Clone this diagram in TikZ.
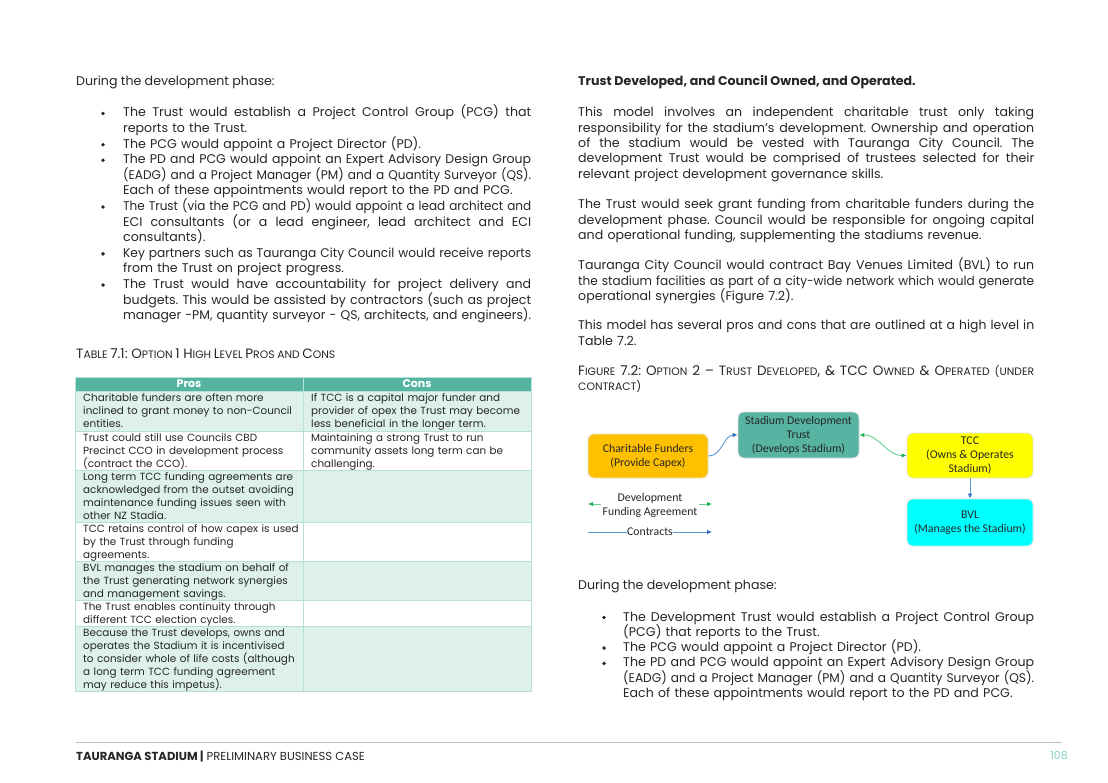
\documentclass[tikz,border=0pt]{standalone}
\usepackage{fontspec}
\usepackage{graphicx}
\setmainfont{Poppins}
\newfontfamily\calib{Carlito}
\usetikzlibrary{arrows.meta}
\frenchspacing
\definecolor{txt}{HTML}{262626}
\definecolor{teal}{HTML}{54B4A1}
\definecolor{lrow}{HTML}{DDF0EC}
\definecolor{grid}{HTML}{B7E0D7}
\definecolor{sdtc}{HTML}{57B3A2}
\definecolor{cfc}{HTML}{FFC000}
\definecolor{tccc}{HTML}{FFFF00}
\definecolor{bvlc}{HTML}{00FFFF}
\definecolor{bluel}{HTML}{5B9BD5}
\definecolor{blued}{HTML}{2F6FBA}
\definecolor{greenl}{HTML}{66D18F}
\definecolor{greend}{HTML}{1DAF50}
\definecolor{pnum}{HTML}{86D3C4}
\definecolor{rule}{HTML}{BFBFBF}
\newcommand\bodyfontL{\fontsize{12.6}{15.6}\selectfont}
\newcommand\bodyfontR{\fontsize{12.6}{15.3}\selectfont}
\newcommand\tabfont{\fontsize{10.4}{13}\selectfont}
\newcommand\BG[1]{{\fontsize{13.5}{15}\selectfont #1}}
\newcommand\SM[1]{{\fontsize{10.8}{15}\selectfont #1}}
% stacked lines: justified line / last line
\newcommand\lines[1]{\vtop{#1}}
\newcommand\J[1]{\setbox0=\hbox{#1}\ifdim\wd0>\linewidth\hbox{\resizebox{\linewidth}{\height}{#1}}\else\hbox to\linewidth{\spaceskip=\fontdimen2\font plus 5\fontdimen2\font minus \fontdimen4\font\relax #1}\fi}
\newcommand\Lst[1]{\setbox0=\hbox{#1}\ifdim\wd0>\linewidth\hbox{\resizebox{\linewidth}{\height}{#1}}\else\hbox{#1}\fi}
\tikzset{
  plain/.style={anchor=base west, inner sep=0pt, font=\bodyfontL, text=txt},
  bltL/.style={anchor=base west, inner sep=0pt, text width=408pt, font=\bodyfontL, text=txt},
  bltR/.style={anchor=base west, inner sep=0pt, text width=411pt, font=\bodyfontR, text=txt},
  parR/.style={anchor=base west, inner sep=0pt, text width=456pt, font=\bodyfontR, text=txt},
  dot/.style={circle, fill=txt, inner sep=0pt, minimum size=3.8pt},
  cell/.style={anchor=base west, inner sep=0pt, text width=219pt, font=\tabfont, text=txt},
  hdr/.style={anchor=base, inner sep=0pt, font=\fontsize{11}{12}\selectfont\bfseries, text=white},
  box/.style={rounded corners=6pt, draw=black!12, line width=0.8pt, align=center, text=txt,
     font=\calib\fontsize{11.8}{14}\selectfont, inner sep=0pt},
  dgtext/.style={align=center, text=txt, font=\calib\fontsize{11.8}{14}\selectfont, inner sep=0pt},
  conB/.style={draw=bluel, line width=0.9pt, -{Latex[length=5pt,width=4.5pt,color=blued]}},
  conG/.style={draw=greenl, line width=0.9pt},
  tipG/.style={-{Latex[length=5pt,width=4.5pt,color=greend]}},
}
\begin{document}
\begin{tikzpicture}[x=1pt,y=-1pt]
\useasboundingbox[fill=white] (0,0) rectangle (1108,783);

% ---------------- left column ----------------
\node[plain] (ldur) at (76,86) {During the development phase:};

\node[dot] (ld1) at (103,113.5) {};
\node[bltL] (lb1) at (123,117) {\lines{\J{The Trust would establish a Project Control Group (PCG) that}\Lst{reports to the Trust.}}};
\node[dot] (ld2) at (103,144.7) {};
\node[bltL] (lb2) at (123,148.2) {\lines{\Lst{The PCG would appoint a Project Director (PD).}}};
\node[dot] (ld3) at (103,160.3) {};
\node[bltL] (lb3) at (123,163.8) {\lines{\J{The PD and PCG would appoint an Expert Advisory Design Group}\J{(EADG) and a Project Manager (PM) and a Quantity Surveyor (QS).}\Lst{Each of these appointments would report to the PD and PCG.}}};
\node[dot] (ld4) at (103,207.1) {};
\node[bltL] (lb4) at (123,210.6) {\lines{\J{The Trust (via the PCG and PD) would appoint a lead architect and}\J{ECI consultants (or a lead engineer, lead architect and ECI}\Lst{consultants).}}};
\node[dot] (ld5) at (103,253.9) {};
\node[bltL] (lb5) at (123,257.4) {\lines{\J{Key partners such as Tauranga City Council would receive reports}\Lst{from the Trust on project progress.}}};
\node[dot] (ld6) at (103,285.1) {};
\node[bltL] (lb6) at (123,288.6) {\lines{\J{The Trust would have accountability for project delivery and}\J{budgets. This would be assisted by contractors (such as project}\Lst{manager -PM, quantity surveyor - QS, architects, and engineers).}}};

\node[anchor=base west, inner sep=0pt, text=txt] (tcap) at (76,359)
  {\BG{T}\SM{ABLE} \BG{7.1: O}\SM{PTION} \BG{1 H}\SM{IGH} \BG{L}\SM{EVEL} \BG{P}\SM{ROS} \SM{AND} \BG{C}\SM{ONS}};

% table backgrounds
\fill[teal] (75,377) rectangle (531,391);
\fill[lrow] (75,391) rectangle (531,431);
\fill[lrow] (75,470) rectangle (531,522);
\fill[lrow] (75,561) rectangle (531,600);
\fill[lrow] (75,626) rectangle (531,691);
\draw[grid, line width=0.8pt] (75,377) rectangle (531,691);
\foreach \yy in {391,431,470,522,561,600,626} \draw[grid, line width=0.8pt] (75,\yy) -- (531,\yy);
\draw[grid, line width=0.8pt] (303,377) -- (303,691);

\node[hdr] (hpro) at (189,388) {Pros};
\node[hdr] (hcon) at (417,388) {Cons};

\node[cell] (p1) at (83,401.5) {\lines{\Lst{Charitable funders are often more}\Lst{inclined to grant money to non-Council}\Lst{entities.}}};
\node[cell] (c1) at (311,401.5) {\lines{\Lst{If TCC is a capital major funder and}\Lst{provider of opex the Trust may become}\Lst{less beneficial in the longer term.}}};
\node[cell] (p2) at (83,441) {\lines{\Lst{Trust could still use Councils CBD}\Lst{Precinct CCO in development process}\Lst{(contract the CCO).}}};
\node[cell] (c2) at (311,441) {\lines{\Lst{Maintaining a strong Trust to run}\Lst{community assets long term can be}\Lst{challenging.}}};
\node[cell] (p3) at (83,480.5) {\lines{\Lst{Long term TCC funding agreements are}\Lst{acknowledged from the outset avoiding}\Lst{maintenance funding issues seen with}\Lst{other NZ Stadia.}}};
\node[cell] (p4) at (83,532.5) {\lines{\Lst{TCC retains control of how capex is used}\Lst{by the Trust through funding}\Lst{agreements.}}};
\node[cell] (p5) at (83,571.5) {\lines{\Lst{BVL manages the stadium on behalf of}\Lst{the Trust generating network synergies}\Lst{and management savings.}}};
\node[cell] (p6) at (83,610.5) {\lines{\Lst{The Trust enables continuity through}\Lst{different TCC election cycles.}}};
\node[cell] (p7) at (83,636.5) {\lines{\Lst{Because the Trust develops, owns and}\Lst{operates the Stadium it is incentivised}\Lst{to consider whole of life costs (although}\Lst{a long term TCC funding agreement}\Lst{may reduce this impetus).}}};

% ---------------- right column ----------------
\node[plain, font=\bodyfontR\bfseries] (rhead) at (578,86) {Trust Developed, and Council Owned, and Operated.};
\node[parR] (rp1) at (578,117) {\lines{\J{This model involves an independent charitable trust only taking}\J{responsibility for the stadium’s development. Ownership and operation}\J{of the stadium would be vested with Tauranga City Council. The}\J{development Trust would be comprised of trustees selected for their}\Lst{relevant project development governance skills.}}};
\node[parR] (rp2) at (578,209) {\lines{\J{The Trust would seek grant funding from charitable funders during the}\J{development phase. Council would be responsible for ongoing capital}\Lst{and operational funding, supplementing the stadiums revenue.}}};
\node[parR] (rp3) at (578,270) {\lines{\J{Tauranga City Council would contract Bay Venues Limited (BVL) to run}\J{the stadium facilities as part of a city-wide network which would generate}\Lst{operational synergies (Figure 7.2).}}};
\node[parR] (rp4) at (578,330) {\lines{\J{This model has several pros and cons that are outlined at a high level in}\Lst{Table 7.2.}}};
\node[parR, font=\fontsize{13.5}{15.3}\selectfont] (fcap) at (578,375.5)
  {\lines{\J{\BG{F}\SM{IGURE} \BG{7.2: O}\SM{PTION} \BG{2 – T}\SM{RUST} \BG{D}\SM{EVELOPED}, \BG{\& TCC O}\SM{WNED} \BG{\& O}\SM{PERATED} \SM{(UNDER}}\Lst{\SM{CONTRACT)}}}};

% diagram
\node[box, fill=cfc, minimum width=120pt, minimum height=44pt] (cf) at (648,456) {Charitable Funders\\(Provide Capex)};
\node[box, fill=sdtc, minimum width=121pt, minimum height=46pt] (sdt) at (798.5,435) {Stadium Development\\Trust\\(Develops Stadium)};
\node[box, fill=tccc, minimum width=126pt, minimum height=45pt] (tcc) at (970,455.5) {TCC\\(Owns \& Operates\\Stadium)};
\node[box, fill=bvlc, minimum width=126pt, minimum height=47pt] (bvl) at (970,522.5) {BVL\\(Manages the Stadium)};

\draw[conB] (cf.east) to[out=0,in=180] (sdt.west);
\draw[conG, {Latex[length=5pt,width=4.5pt,color=greend]}-{Latex[length=5pt,width=4.5pt,color=greend]}] (sdt.east) to[out=0,in=180] (tcc.west);
\draw[conB] (tcc.south) -- (bvl.north);

\node[dgtext] (dflab) at (650,505) {Development\\Funding Agreement};
\coordinate (dgLa) at (601,504);
\coordinate (dgLb) at (588,504);
\coordinate (dgRa) at (699,504);
\coordinate (dgRb) at (712,504);
\draw[conG, tipG] (dgLa) -- (dgLb);
\draw[conG, tipG] (dgRa) -- (dgRb);
\coordinate (ctL) at (588,532);
\coordinate (ctR) at (712,532);
\draw[conB] (ctL) -- (ctR);
\node[dgtext, fill=white, inner sep=0.6pt] (ctlab) at (650,532) {Contracts};

\node[plain, font=\bodyfontR] (rdur) at (578,589) {During the development phase:};
\node[dot] (rd1) at (604,617.5) {};
\node[bltR] (rb1) at (623,621) {\lines{\J{The Development Trust would establish a Project Control Group}\Lst{(PCG) that reports to the Trust.}}};
\node[dot] (rd2) at (604,648.1) {};
\node[bltR] (rb2) at (623,651.6) {\lines{\Lst{The PCG would appoint a Project Director (PD).}}};
\node[dot] (rd3) at (604,663.4) {};
\node[bltR] (rb3) at (623,666.9) {\lines{\J{The PD and PCG would appoint an Expert Advisory Design Group}\J{(EADG) and a Project Manager (PM) and a Quantity Surveyor (QS).}\Lst{Each of these appointments would report to the PD and PCG.}}};

% footer
\coordinate (fl) at (76,742);
\coordinate (fr) at (1062,742);
\draw[rule, line width=1pt] (fl) -- (fr);
\node[anchor=base west, inner sep=0pt, text=txt, font=\fontsize{11.6}{13}\selectfont] (foot) at (76,760)
  {\textbf{TAURANGA STADIUM |} PRELIMINARY BUSINESS CASE};
\node[anchor=base, inner sep=0pt, text=pnum, font=\fontsize{11}{13}\selectfont] (pg) at (1059,759) {108};
\end{tikzpicture}
\end{document}
